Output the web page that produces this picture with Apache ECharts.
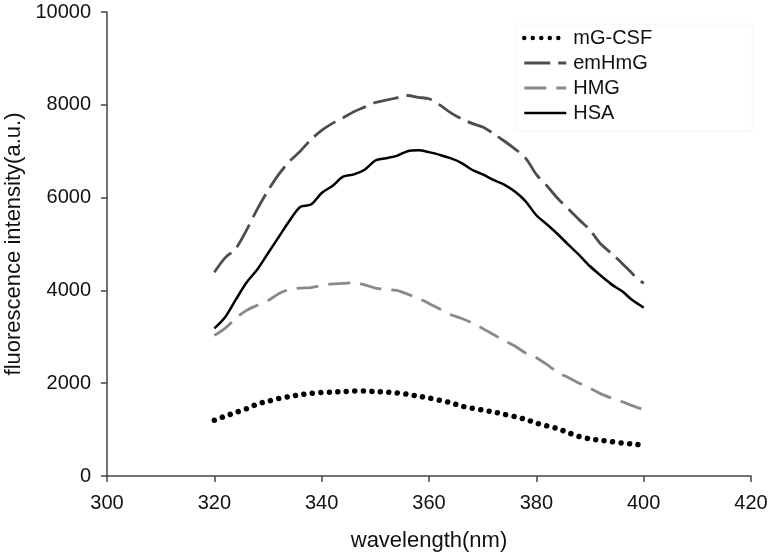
<!DOCTYPE html>
<html>
<head>
<meta charset="utf-8">
<script src="https://cdn.jsdelivr.net/npm/echarts@6/dist/echarts.min.js"></script>
<style>html,body{margin:0;padding:0;background:#fff;}#c{width:772px;height:558px;}</style>
</head>
<body>
<div id="c"></div>
<script>
var wavelengths = [320,322,324,326,328,330,332,334,336,338,340,342,344,346,348,350,352,354,356,358,360,362,364,366,368,370,372,374,376,378,380,382,384,386,388,390,392,394,396,398,400];
var mGCSF = [1200,1290,1370,1450,1550,1610,1670,1710,1750,1780,1800,1810,1820,1830,1830,1820,1810,1790,1760,1720,1680,1630,1580,1510,1460,1420,1380,1330,1280,1220,1140,1080,1020,930,850,800,770,740,710,690,660];
var emHmG = [4390,4700,4900,5300,5750,6150,6500,6780,7000,7250,7450,7600,7720,7850,7950,8050,8100,8150,8200,8160,8130,8000,7830,7700,7600,7520,7380,7220,7050,6850,6500,6250,5980,5750,5520,5300,5000,4800,4580,4350,4150];
var HMG = [3030,3180,3400,3570,3680,3780,3930,4020,4050,4060,4110,4140,4150,4170,4120,4050,4020,4000,3920,3830,3720,3600,3480,3400,3300,3180,3050,2920,2800,2650,2550,2400,2230,2120,2000,1890,1770,1680,1600,1510,1430];
var HSA = [3180,3420,3800,4170,4450,4800,5150,5500,5800,5850,6100,6250,6450,6500,6600,6800,6850,6900,7000,7020,6980,6920,6850,6750,6600,6500,6380,6280,6130,5920,5620,5420,5210,4980,4760,4520,4320,4130,3980,3780,3630];
var seriesNames = ['mG-CSF','emHmG','HMG','HSA'];

function pairs(vals){ return wavelengths.map(function(w,i){ return [w, vals[i]]; }); }

var styles = {
  'mG-CSF': {color: '#000', width: 5.5, type: [0.01, 8.5], cap: 'round'},
  'emHmG': {color: '#4d4d4d', width: 2.8, type: [26, 8]},
  'HMG': {color: '#8a8a8a', width: 2.8, type: [22, 10]},
  'HSA': {color: '#000', width: 2.5}
};
var seriesData = {'mG-CSF': mGCSF, 'emHmG': emHmG, 'HMG': HMG, 'HSA': HSA};

var FONT = 'Liberation Sans, Arial, sans-serif';
var chart = echarts.init(document.getElementById('c'), null, {renderer:'canvas'});
chart.setOption({
  animation: false,
  backgroundColor: '#fff',
  grid: {left: 107, right: 21, top: 12, bottom: 82, containLabel: false, outerBoundsMode: 'none'},
  legend: {
    orient: 'vertical', left: 516, top: 24,
    itemWidth: 42, itemHeight: 14, itemGap: 5,
    padding: [4, 100, 8, 6],
    backgroundColor: '#fff', borderColor: '#f4f4f4', borderWidth: 1,
    itemStyle: {opacity: 0},
    textStyle: {fontFamily: FONT, fontSize: 20, color: '#111', padding: [0, 0, 0, 2]},
    data: seriesNames.map(function(n){
      var s = styles[n];
      return {name: n, lineStyle: {color: s.color, width: Math.min(s.width, 4.5), type: s.type || 'solid', cap: s.cap || 'butt'}};
    })
  },
  xAxis: {
    type: 'value', min: 300, max: 420, interval: 20,
    name: 'wavelength(nm)', nameLocation: 'middle', nameGap: 54,
    nameTextStyle: {fontFamily: FONT, fontSize: 22, color: '#111'},
    axisLine: {show: true, onZero: false, lineStyle: {color: '#444', width: 1.5}},
    axisTick: {show: true, inside: false, length: 6, lineStyle: {color: '#444', width: 1.5}},
    axisLabel: {fontFamily: FONT, fontSize: 20, color: '#111', margin: 17, formatter: function(v){ return String(v); }},
    splitLine: {show: false}
  },
  yAxis: {
    type: 'value', min: 0, max: 10000, interval: 2000,
    name: 'fluorescence intensity(a.u.)', nameLocation: 'middle', nameGap: 78, nameRotate: 90,
    nameTextStyle: {fontFamily: FONT, fontSize: 22, color: '#111'},
    axisLine: {show: true, lineStyle: {color: '#444', width: 1.5}},
    axisTick: {show: true, inside: false, length: 6, lineStyle: {color: '#444', width: 1.5}},
    axisLabel: {fontFamily: FONT, fontSize: 20, color: '#111', margin: 16, formatter: function(v){ return String(v); }},
    splitLine: {show: false}
  },
  series: seriesNames.map(function(n){
    var s = styles[n];
    return {name: n, type: 'line', data: pairs(seriesData[n]), symbol: 'none', smooth: 0.3,
      lineStyle: s, itemStyle: {color: s.color}};
  })
});
</script>
</body>
</html>
